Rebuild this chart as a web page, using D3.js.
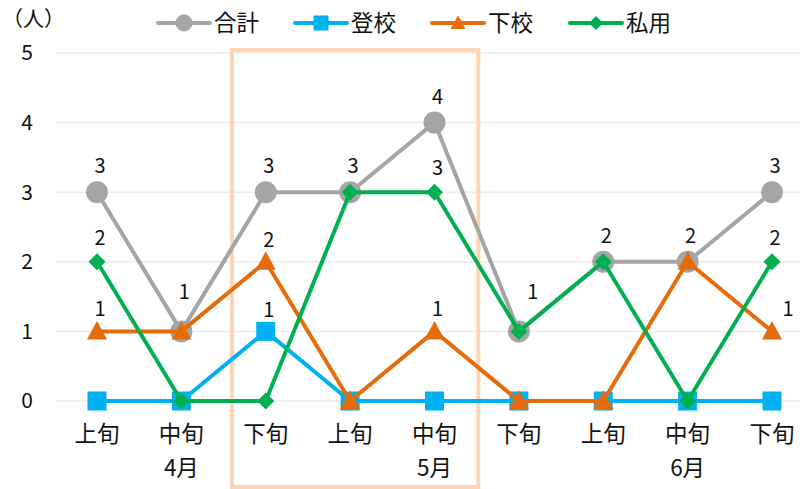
<!DOCTYPE html>
<html>
<head>
<meta charset="utf-8">
<script src="https://cdn.jsdelivr.net/npm/d3@7"></script>
<style>
    body { margin: 0; background: #fff; }
    text { font-family: "Noto Sans CJK JP", "Noto Sans", sans-serif; fill: #111; }
</style>
</head>
<body>
<div id="chart"></div>
<script>
const categories = ["上旬", "中旬", "下旬", "上旬", "中旬", "下旬", "上旬", "中旬", "下旬"];
const months = ["4月", "5月", "6月"];
const monthAt = [1, 4, 7];
const seriesNames = ["合計", "登校", "下校", "私用"];
const totalValues = [3, 1, 3, 3, 4, 1, 2, 2, 3];
const schoolInValues = [0, 0, 1, 0, 0, 0, 0, 0, 0];
const schoolOutValues = [1, 1, 2, 0, 1, 0, 0, 2, 1];
const privateValues = [2, 0, 0, 3, 3, 1, 2, 0, 2];
const yTicks = [0, 1, 2, 3, 4, 5];

const width = 800, height = 489;
const margin = {top: 53, right: 28, bottom: 88, left: 97};

const colors = ["#a5a5a5", "#00b0f0", "#e46c0a", "#00b050"];
const allValues = [totalValues, schoolInValues, schoolOutValues, privateValues];

// marker shapes, r = half size
const tri = {draw: function (ctx, r) {
    ctx.moveTo(0, -r * 1.05);
    ctx.lineTo(r, r * 0.8);
    ctx.lineTo(-r, r * 0.8);
    ctx.closePath();
}};
const dia = {draw: function (ctx, r) {
    ctx.moveTo(0, -r);
    ctx.lineTo(r, 0);
    ctx.lineTo(0, r);
    ctx.lineTo(-r, 0);
    ctx.closePath();
}};
const circ = {draw: function (ctx, r) {
    ctx.moveTo(r, 0);
    ctx.arc(0, 0, r, 0, 2 * Math.PI);
}};
const sq = {draw: function (ctx, r) {
    ctx.rect(-r, -r, 2 * r, 2 * r);
}};
const shapes = [circ, sq, tri, dia];
const markR = [11, 9.5, 10, 8.5];
const legendR = [8.5, 7.5, 7.5, 7];

const svg = d3.select("#chart")
    .append("svg")
    .attr("width", width)
    .attr("height", height);

const x = d3.scaleLinear()
    .domain([0, categories.length - 1])
    .range([margin.left, width - margin.right]);
const y = d3.scaleLinear()
    .domain([0, 5])
    .range([height - margin.bottom, margin.top]);

// grid
svg.append("g")
    .selectAll("line")
    .data(yTicks)
    .enter()
    .append("line")
    .attr("x1", 55)
    .attr("x2", width)
    .attr("y1", d => y(d))
    .attr("y2", d => y(d))
    .attr("stroke", "#ececec")
    .attr("stroke-width", 1.5);

// y labels
svg.append("g")
    .selectAll("text")
    .data(yTicks)
    .enter()
    .append("text")
    .attr("x", 27)
    .attr("y", d => y(d))
    .attr("dy", "0.35em")
    .attr("text-anchor", "middle")
    .style("font-size", "21px")
    .text(d => d);

svg.append("text")
    .attr("x", 2)
    .attr("y", 26)
    .style("font-size", "21px")
    .text("（人）");

// highlight box
svg.append("rect")
    .attr("x", x(1.6))
    .attr("y", 50)
    .attr("width", x(4.52) - x(1.6))
    .attr("height", 437)
    .attr("fill", "none")
    .attr("stroke", "#fdd5b4")
    .attr("stroke-width", 4);

// x labels
svg.append("g")
    .selectAll("text")
    .data(categories)
    .enter()
    .append("text")
    .attr("x", (d, i) => x(i))
    .attr("y", 442)
    .attr("text-anchor", "middle")
    .style("font-size", "22.5px")
    .text(d => d);

svg.append("g")
    .selectAll("text")
    .data(months)
    .enter()
    .append("text")
    .attr("x", (d, i) => x(monthAt[i]))
    .attr("y", 476)
    .attr("text-anchor", "middle")
    .style("font-size", "22.5px")
    .text(d => d);

const line = d3.line()
    .x((d, i) => x(i))
    .y(d => y(d));

allValues.forEach(function (vals, s) {
    svg.append("path")
        .datum(vals)
        .attr("d", line)
        .attr("fill", "none")
        .attr("stroke", colors[s])
        .attr("stroke-width", 4)
        .attr("stroke-linejoin", "round");
    svg.append("g")
        .selectAll("path")
        .data(vals)
        .enter()
        .append("path")
        .attr("d", d3.symbol().type(shapes[s]).size(markR[s]))
        .attr("transform", (d, i) => "translate(" + x(i) + "," + y(d) + ")")
        .attr("fill", colors[s]);
});

// data labels: non-zero, skip duplicates at same point
const labels = [];
categories.forEach(function (c, i) {
    const seen = [];
    allValues.forEach(function (vals, s) {
        const v = vals[i];
        if (v === 0 || seen.indexOf(v) >= 0) return;
        seen.push(v);
        labels.push({i: i, v: v, s: s});
    });
});
const labelOff = [26, 21, 22, 24];
svg.append("g")
    .selectAll("text")
    .data(labels)
    .enter()
    .append("text")
    .attr("x", function (d) {
        if (d.s === 2 && d.i === 8) return x(d.i) + 16;
        if (d.s === 0 && d.i === 5) return x(d.i) + 14;
        return x(d.i) + 3;
    })
    .attr("y", d => y(d.v) - (d.s === 0 && d.v === 1 ? 39 : labelOff[d.s]))
    .attr("dy", "0.35em")
    .attr("text-anchor", "middle")
    .style("font-size", "20px")
    .text(d => d.v);

// legend
const legend = svg.append("g");
const legendX = [158, 295, 432, 570];
seriesNames.forEach(function (name, s) {
    const g = legend.append("g").attr("transform", "translate(" + legendX[s] + ",23)");
    g.append("line")
        .attr("x1", 0).attr("x2", 52)
        .attr("stroke", colors[s])
        .attr("stroke-width", 4)
        .attr("stroke-linecap", "round");
    g.append("path")
        .attr("d", d3.symbol().type(shapes[s]).size(legendR[s]))
        .attr("transform", "translate(26,0)")
        .attr("fill", colors[s]);
    g.append("text")
        .attr("x", 56)
        .attr("dy", "0.36em")
        .style("font-size", "22.5px")
        .text(name);
});
</script>
</body>
</html>
